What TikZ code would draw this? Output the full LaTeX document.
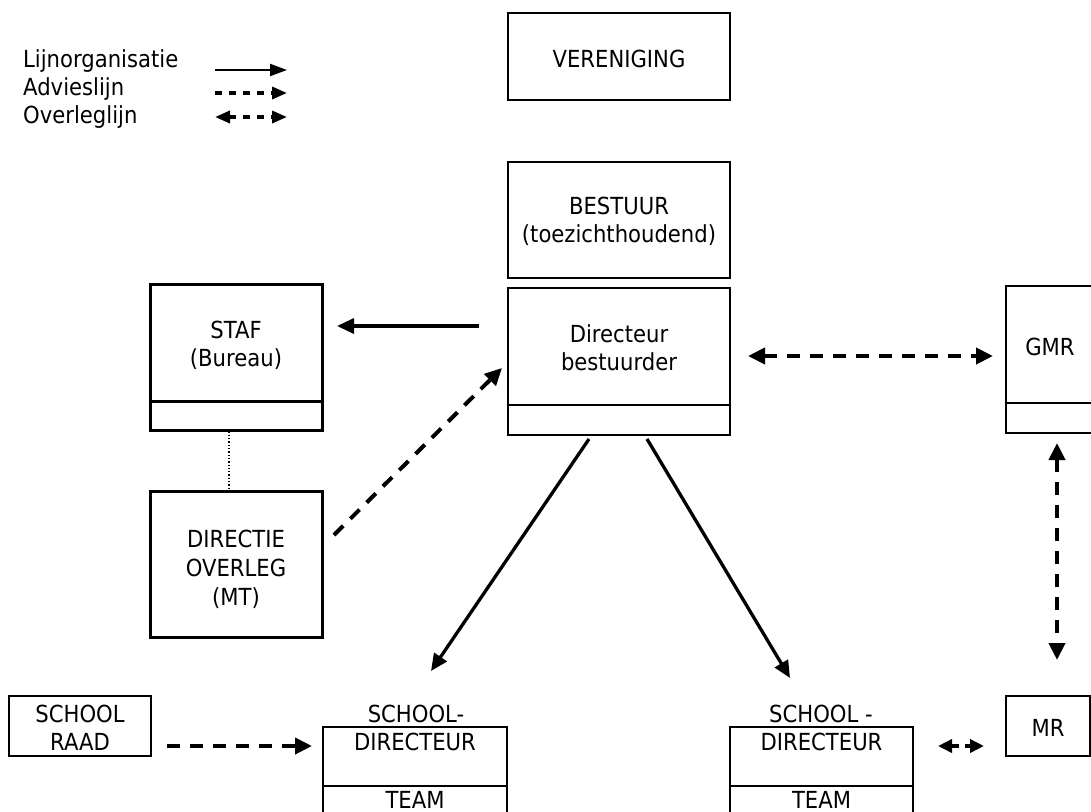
\documentclass[tikz,border=0pt]{standalone}
\usepackage{fontspec}
\setmainfont{DejaVu Sans}[FakeStretch=0.9]
\usetikzlibrary{arrows.meta}
\begin{document}
\begin{tikzpicture}[x=1pt,y=-1pt,
  box/.style={draw, line width=1.5pt, inner sep=0pt},
  thickbox/.style={draw, line width=3pt, inner sep=0pt},
  divline/.style={line width=1.5pt},
  thickdiv/.style={line width=3pt},
  txt/.style={inner sep=0pt, anchor=base, font=\fontsize{23.5}{28}\selectfont},
  ltxt/.style={txt, anchor=base west},
  lineorg/.style={line width=3.3pt, -{Triangle[length=17pt,width=15pt]}},
  advies/.style={line width=4pt, dash pattern=on 13pt off 10pt, -{Triangle[length=17pt,width=16pt]}},
  overleg/.style={line width=4pt, dash pattern=on 13pt off 10pt, {Triangle[length=17pt,width=16pt]}-{Triangle[length=17pt,width=16pt]}},
  smalloverleg/.style={line width=3.5pt, dash pattern=on 8pt off 6pt, {Triangle[length=14pt,width=13pt]}-{Triangle[length=14pt,width=13pt]}},
  leglineorg/.style={line width=2pt, -{Triangle[length=17pt,width=12pt]}},
  legadvies/.style={line width=3.5pt, dash pattern=on 7pt off 7pt, -{Triangle[length=15pt,width=12pt]}},
  legoverleg/.style={line width=3.5pt, dash pattern=on 7pt off 7pt, {Triangle[length=15pt,width=12pt]}-{Triangle[length=15pt,width=12pt]}},
  dottedline/.style={line width=1.3pt, dotted}
]
\clip (0,0) rectangle (1091,811);
\fill[white] (0,0) rectangle (1091,811);

% legend
\node[ltxt] (l1) at (23,67) {Lijnorganisatie};
\node[ltxt] (l2) at (23,95) {Advieslijn};
\node[ltxt] (l3) at (23,123) {Overleglijn};
\coordinate (la1) at (215,70);  \coordinate (lb1) at (287,70);
\coordinate (la2) at (215,93);  \coordinate (lb2) at (287,93);
\coordinate (la3) at (215,117); \coordinate (lb3) at (287,117);
\draw[leglineorg] (la1) -- (lb1);
\draw[legadvies] (la2) -- (lb2);
\draw[legoverleg] (la3) -- (lb3);

% boxes
\node[box, minimum width=222pt, minimum height=87pt] (ver) at (619,56.5) {};
\node[txt] (tver) at (619,67) {VERENIGING};

\node[box, minimum width=222pt, minimum height=116pt] (best) at (619,220) {};
\node[txt] (tbest1) at (619,214) {BESTUUR};
\node[txt] (tbest2) at (619,242) {(toezichthoudend)};

\node[box, minimum width=222pt, minimum height=147pt] (dir) at (619,361.5) {};
\draw[divline] (dir.west |- 0,405) -- (dir.east |- 0,405);
\node[txt] (tdir1) at (619,342) {Directeur};
\node[txt] (tdir2) at (619,370) {bestuurder};

\node[thickbox, minimum width=172pt, minimum height=146pt] (staf) at (236,357) {};
\draw[thickdiv] (staf.west |- 0,401) -- (staf.east |- 0,401);
\node[txt] (tstaf1) at (236,338) {STAF};
\node[txt] (tstaf2) at (236,366) {(Bureau)};

\node[thickbox, minimum width=172pt, minimum height=146pt] (mt) at (236,564) {};
\node[txt] (tmt1) at (236,547) {DIRECTIE};
\node[txt] (tmt2) at (236,576) {OVERLEG};
\node[txt] (tmt3) at (236,605) {(MT)};

\coordinate (dl) at (229,0);
\draw[dottedline] (staf.south -| dl) -- (mt.north -| dl);

\node[box, minimum width=92pt, minimum height=147pt] (gmr) at (1052,359.5) {};
\draw[divline] (gmr.west |- 0,403) -- (gmr.east |- 0,403);
\node[txt] (tgmr) at (1050,355) {GMR};

\node[box, minimum width=142pt, minimum height=60pt] (raad) at (80,726) {};
\node[txt] (traad1) at (80,722) {SCHOOL};
\node[txt] (traad2) at (80,750) {RAAD};

\node[box, minimum width=84pt, minimum height=60pt] (mr) at (1048,726) {};
\node[txt] (tmr) at (1048,736) {MR};

\node[box, minimum width=184pt, minimum height=123pt] (sd1) at (415,788.5) {};
\draw[divline] (sd1.west |- 0,786) -- (sd1.east |- 0,786);
\node[txt] (tsd1a) at (416,722) {SCHOOL-};
\node[txt] (tsd1b) at (415,750) {DIRECTEUR};
\node[txt] (tsd1c) at (415,808) {TEAM};

\node[box, minimum width=183pt, minimum height=123pt] (sd2) at (821.5,788.5) {};
\draw[divline] (sd2.west |- 0,786) -- (sd2.east |- 0,786);
\node[txt] (tsd2a) at (821,722) {SCHOOL -};
\node[txt] (tsd2b) at (821.5,750) {DIRECTEUR};
\node[txt] (tsd2c) at (821.5,808) {TEAM};

% connectors
\coordinate (s1) at (479,326); \coordinate (e1) at (337,326);
\draw[lineorg] (s1) -- (e1);
\coordinate (s2) at (334,535); \coordinate (e2) at (502,368);
\draw[advies] (s2) -- (e2);
\coordinate (s3) at (589,439); \coordinate (e3) at (431,671);
\draw[lineorg] (s3) -- (e3);
\coordinate (s4) at (647,439); \coordinate (e4) at (790,678);
\draw[lineorg] (s4) -- (e4);
\coordinate (s5) at (748,356); \coordinate (e5) at (993,356);
\draw[overleg] (s5) -- (e5);
\coordinate (s6) at (1057,443); \coordinate (e6) at (1057,660);
\draw[overleg] (s6) -- (e6);
\coordinate (s7) at (167,746); \coordinate (e7) at (312,746);
\draw[advies] (s7) -- (e7);
\coordinate (s8) at (938,746); \coordinate (e8) at (984,746);
\draw[smalloverleg] (s8) -- (e8);
\end{tikzpicture}
\end{document}
